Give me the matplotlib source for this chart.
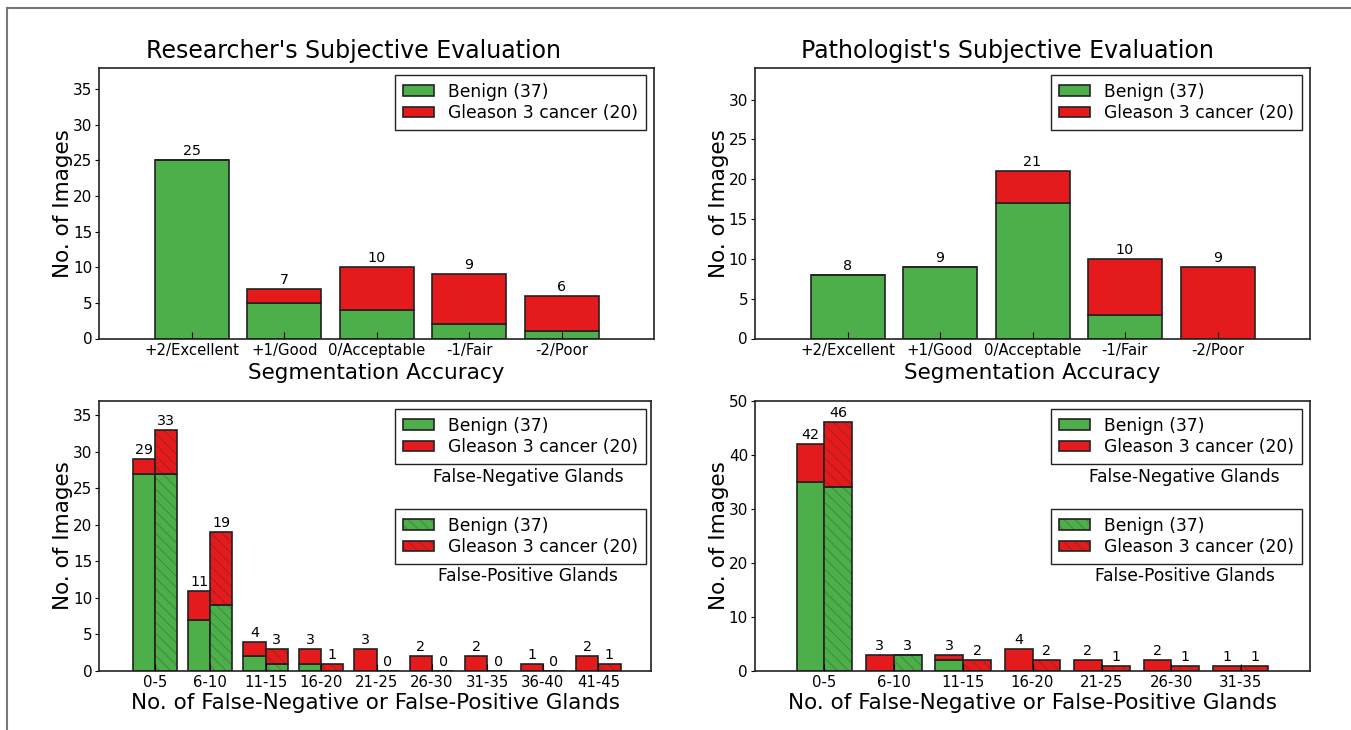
import matplotlib
matplotlib.use('Agg')
import matplotlib.pyplot as plt
import numpy as np
from matplotlib.patches import Patch
from matplotlib.lines import Line2D
from matplotlib.legend_handler import HandlerTuple

# ---------------- data ----------------
acc_categories = ['+2/Excellent', '+1/Good', '0/Acceptable', '-1/Fair', '-2/Poor']
res_benign = [25, 5, 4, 2, 1]
res_cancer = [0, 2, 6, 7, 5]
path_benign = [8, 9, 17, 3, 0]
path_cancer = [0, 0, 4, 7, 9]

res_bins = ['0-5', '6-10', '11-15', '16-20', '21-25', '26-30', '31-35', '36-40', '41-45']
res_fn_benign = [27, 7, 2, 1, 0, 0, 0, 0, 0]
res_fn_cancer = [2, 4, 2, 2, 3, 2, 2, 1, 2]
res_fp_benign = [27, 9, 1, 0, 0, 0, 0, 0, 0]
res_fp_cancer = [6, 10, 2, 1, 0, 0, 0, 0, 1]

path_bins = ['0-5', '6-10', '11-15', '16-20', '21-25', '26-30', '31-35']
path_fn_benign = [35, 0, 2, 0, 0, 0, 0]
path_fn_cancer = [7, 3, 1, 4, 2, 2, 1]
path_fp_benign = [34, 3, 0, 0, 0, 0, 0]
path_fp_cancer = [12, 0, 2, 2, 1, 1, 1]

titles = ["Researcher's Subjective Evaluation", "Pathologist's Subjective Evaluation"]
legend_labels = ['Benign (37)', 'Gleason 3 cancer (20)']

# ---------------- style ----------------
GREEN = '#4daf4a'
RED = '#e41a1c'
EDGE = '#222222'
HATCH_EC = (0.1, 0.2, 0.1, 0.28)
HATCH = '\\\\\\'
plt.rcParams['font.family'] = ['DejaVu Sans']
plt.rcParams['hatch.linewidth'] = 0.8

W, H = 1351, 730
fig = plt.figure(figsize=(W / 100, H / 100), dpi=100)


def ax_at(x0, y0, x1, y1):
    return fig.add_axes([x0 / W, 1 - y1 / H, (x1 - x0) / W, (y1 - y0) / H])


def style_axes(ax):
    ax.tick_params(axis='x', direction='in', length=5, labelsize=10.7, top=False, pad=3)
    ax.tick_params(axis='y', direction='out', length=3, labelsize=11, right=False, pad=2)
    for s in ax.spines.values():
        s.set_linewidth(1.2)
        s.set_color('#222222')


def stacked(ax, x, b, c, width, hatched=False):
    if hatched:
        ax.bar(x, b, width, color=GREEN, edgecolor=HATCH_EC, linewidth=0, hatch=HATCH)
        ax.bar(x, c, width, bottom=b, color=RED, edgecolor=HATCH_EC, linewidth=0, hatch=HATCH)
        ax.bar(x, b, width, fill=False, edgecolor=EDGE, linewidth=1.2)
        ax.bar(x, c, width, bottom=b, fill=False, edgecolor=EDGE, linewidth=1.2)
    else:
        ax.bar(x, b, width, color=GREEN, edgecolor=EDGE, linewidth=1.2)
        ax.bar(x, c, width, bottom=b, color=RED, edgecolor=EDGE, linewidth=1.2)
    tot = np.array(b) + np.array(c)
    for xi, t in zip(x, tot):
        ax.annotate(str(t), (xi, t), xytext=(0, 1.5), textcoords='offset points',
                    ha='center', va='bottom', fontsize=10.3)


def solid_handles():
    return [Patch(facecolor=GREEN, edgecolor=EDGE, linewidth=1.2),
            Patch(facecolor=RED, edgecolor=EDGE, linewidth=1.2)]


def hatched_handles():
    out = []
    for col in (GREEN, RED):
        out.append((Patch(facecolor=col, edgecolor=HATCH_EC, linewidth=0, hatch=HATCH),
                    Patch(facecolor='none', edgecolor=EDGE, linewidth=1.2)))
    return out


def make_legend(ax, handles, anchor):
    lg = ax.legend(handles, legend_labels, loc='upper right', bbox_to_anchor=anchor,
                   borderaxespad=0, fontsize=12.3, fancybox=False, framealpha=1,
                   edgecolor='#222222', handlelength=1.8, handleheight=0.55,
                   handletextpad=0.85, borderpad=0.45, labelspacing=0.2,
                   handler_map={tuple: HandlerTuple(ndivide=1, pad=0)})
    lg.get_frame().set_linewidth(1.0)
    return lg


def legend_anchor(x0, x1, y0, y1, px_right, px_top):
    return ((px_right - x0) / (x1 - x0), (y1 - px_top) / (y1 - y0))


# ---------------- top row ----------------
top_data = [(res_benign, res_cancer, 38, np.arange(0, 36, 5), 99.3, 654, 0.459, 646),
            (path_benign, path_cancer, 34, np.arange(0, 31, 5), 755, 1310, 0.454, 1302)]
for i, (b, c, ymax, yt, x0, x1, tx, lr) in enumerate(top_data):
    y0, y1 = 67.7, 338.5
    ax = ax_at(x0, y0, x1, y1)
    x = np.arange(1, len(acc_categories) + 1)
    stacked(ax, x, b, c, 0.8)
    ax.set_xlim(0, 6)
    ax.set_ylim(0, ymax)
    ax.set_yticks(yt)
    ax.set_xticks(x)
    ax.set_xticklabels(acc_categories)
    style_axes(ax)
    ax.set_title(titles[i], fontsize=17, pad=7, x=tx)
    ax.set_ylabel('No. of Images', fontsize=15.5, labelpad=0)
    ax.set_xlabel('Segmentation Accuracy', fontsize=15.5, labelpad=4)
    make_legend(ax, solid_handles(), legend_anchor(x0, x1, y0, y1, lr, 75))

# ---------------- bottom row ----------------
bot_data = [(res_bins, res_fn_benign, res_fn_cancer, res_fp_benign, res_fp_cancer,
             37, np.arange(0, 36, 5), 99.3, 651, 9.95, 528, 646),
            (path_bins, path_fn_benign, path_fn_cancer, path_fp_benign, path_fp_cancer,
             50, np.arange(0, 51, 10), 755, 1310, 8, 1184.5, 1302)]
for (bins, fnb, fnc, fpb, fpc, ymax, yt, x0, x1, xmax, tcx, lr) in bot_data:
    y0, y1 = 400.7, 671
    ax = ax_at(x0, y0, x1, y1)
    x = np.arange(1, len(bins) + 1)
    stacked(ax, x - 0.2, fnb, fnc, 0.4)
    stacked(ax, x + 0.2, fpb, fpc, 0.4, hatched=True)
    ax.set_xlim(0, xmax)
    ax.set_ylim(0, ymax)
    ax.set_yticks(yt)
    ax.set_xticks(x)
    ax.set_xticklabels(bins)
    style_axes(ax)
    ax.set_ylabel('No. of Images', fontsize=15.5, labelpad=0)
    ax.set_xlabel('No. of False-Negative or False-Positive Glands', fontsize=15.5, labelpad=2)
    lg1 = make_legend(ax, solid_handles(), legend_anchor(x0, x1, y0, y1, lr, 409))
    ax.add_artist(lg1)
    make_legend(ax, hatched_handles(), legend_anchor(x0, x1, y0, y1, lr, 509))
    tx = (tcx - x0) / (x1 - x0)
    ax.text(tx, (y1 - 476.5) / (y1 - y0), 'False-Negative Glands', transform=ax.transAxes,
            ha='center', va='center', fontsize=12.3)
    ax.text(tx, (y1 - 576) / (y1 - y0), 'False-Positive Glands', transform=ax.transAxes,
            ha='center', va='center', fontsize=12.3)

# frame lines of the original panel
fig.add_artist(Line2D([7 / W, 7 / W], [0, 1 - 8 / H], color='#777777', linewidth=1.5))
fig.add_artist(Line2D([7 / W, 1], [1 - 8 / H, 1 - 8 / H], color='#777777', linewidth=1.5))

fig.savefig('out.png', dpi=100)
